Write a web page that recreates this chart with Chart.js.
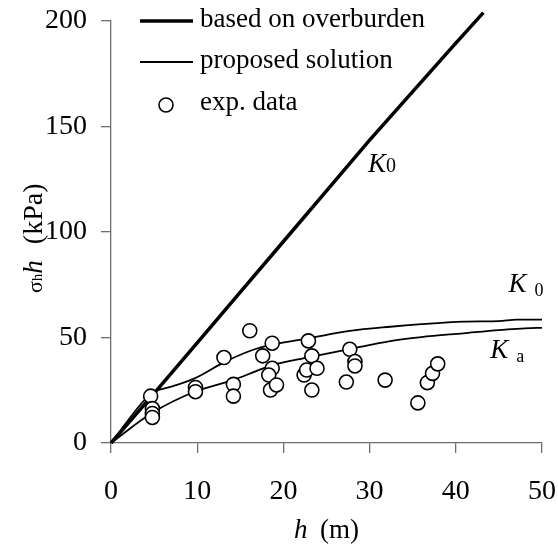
<!DOCTYPE html>
<html>
<head>
<meta charset="utf-8">
<script src="https://cdn.jsdelivr.net/npm/chart.js@4"></script>
<style>
  html, body { margin: 0; padding: 0; background: #fff; }
  canvas { display: block; }
</style>
</head>
<body>
<canvas id="chart" width="558" height="546"></canvas>
<script>
// Data
const hOverburden = [0, 5, 10, 15, 20, 25, 30, 35, 40, 43.2];
const sOverburden = [0, 23.5, 47.5, 71.5, 95.5, 119.5, 143.5, 166.5, 189.5, 204];

const hK0 = [0, 4.7, 7.0, 9.7, 13.0, 16.1, 18.8, 22.9, 27.7, 32.4, 36, 40.9, 45, 47.1, 50];
const sK0 = [0, 23.5, 26.7, 30.6, 38.0, 43.6, 46.7, 49.6, 53.1, 55.1, 56.3, 57.5, 57.8, 58.5, 58.5];

const hKa = [0, 4.7, 9.7, 14.2, 16.7, 18.8, 22.9, 27.7, 32.4, 36, 40.9, 45, 49.4, 50];
const sKa = [0, 14.1, 24.3, 29.9, 33.8, 37, 40.6, 44.5, 48.3, 50.2, 52, 53.5, 54.6, 54.6];

const expH = [4.6, 4.8, 4.8, 4.8, 9.8, 9.8, 13.1, 14.2, 14.2, 16.1, 17.6, 18.7, 18.7, 18.3, 18.5, 19.2,
              22.9, 23.3, 22.4, 22.7, 23.9, 23.3, 27.7, 28.3, 28.3, 27.3, 31.8, 35.6, 36.7, 37.3, 37.9];
const expS = [22.2, 16.3, 14.0, 12.1, 26.3, 24.3, 40.5, 27.8, 22.2, 53.2, 41.3, 47.3, 35.4, 32.2, 25.1, 27.5,
              48.4, 41.3, 32.2, 34.6, 35.4, 25.1, 44.4, 38.6, 36.5, 28.9, 29.8, 19.0, 28.6, 33.0, 37.5];

const xTicks = [0, 10, 20, 30, 40, 50];
const yTicks = [0, 50, 100, 150, 200];

const legendLabels = ['based on overburden', 'proposed solution', 'exp. data'];

// curve labels: [h, sigma, main, subscript, size, subSize, gap]
const curveLabels = [
  [29.8, 128.4, 'K', '0', 27, 20, 0],
  [46.1, 71.6, 'K', '0', 27, 18, 8],
  [44.0, 40.3, 'K', 'a', 27, 18, 8]
];

const SERIF = "'Liberation Serif', 'Times New Roman', serif";
const AXIS_COLOR = '#6e6e6e';

function toPoints(xs, ys) {
  return xs.map((x, i) => ({ x: x, y: ys[i] }));
}

// Draws the legend, the axis titles and the K labels
const annotations = {
  id: 'annotations',
  afterDraw(chart) {
    const c = chart.ctx;
    const xs = chart.scales.x;
    const ys = chart.scales.y;
    c.save();
    c.fillStyle = '#000';
    c.strokeStyle = '#000';
    c.textBaseline = 'alphabetic';

    // legend
    c.font = '27px ' + SERIF;
    c.lineWidth = 3.5;
    c.beginPath(); c.moveTo(140, 21); c.lineTo(193, 21); c.stroke();
    c.fillText(legendLabels[0], 200, 27);
    c.lineWidth = 1.8;
    c.beginPath(); c.moveTo(140, 62); c.lineTo(193, 62); c.stroke();
    c.fillText(legendLabels[1], 200, 68);
    c.lineWidth = 1.6;
    c.beginPath(); c.arc(166, 105, 7, 0, Math.PI * 2); c.stroke();
    c.fillText(legendLabels[2], 200, 110);

    // K labels
    curveLabels.forEach(l => {
      const px = xs.getPixelForValue(l[0]);
      const py = ys.getPixelForValue(l[1]);
      c.font = 'italic ' + l[4] + 'px ' + SERIF;
      c.fillText(l[2], px, py);
      const w = c.measureText(l[2]).width;
      c.font = l[5] + 'px ' + SERIF;
      c.fillText(l[3], px + w + l[6], py + (l[6] ? 4 : 0));
    });

    // x title
    c.font = 'italic 27px ' + SERIF;
    c.fillText('h', 294, 538);
    c.font = '27px ' + SERIF;
    c.fillText('(m)', 320, 538);

    // y title (rotated)
    c.translate(42, 293);
    c.rotate(-Math.PI / 2);
    let x = 0;
    c.font = '22px ' + SERIF;
    c.fillText('σ', x, 0); x += c.measureText('σ').width;
    c.font = '15px ' + SERIF;
    c.fillText('h', x, 0); x += c.measureText('h').width;
    c.font = 'italic 27px ' + SERIF;
    c.fillText('h', x, 0); x += c.measureText('h').width + 16;
    c.font = '28px ' + SERIF;
    c.fillText('(kPa)', x, 0);
    c.restore();
  }
};

const axisGrid = {
  display: true,
  drawOnChartArea: false,
  drawTicks: true,
  tickLength: 10,
  color: AXIS_COLOR,
  lineWidth: 1.3
};

const chart = new Chart(document.getElementById('chart').getContext('2d'), {
  type: 'scatter',
  data: {
    datasets: [
      {
        label: legendLabels[2],
        data: toPoints(expH, expS),
        pointRadius: 7,
        pointBorderWidth: 1.6,
        pointBackgroundColor: '#fff',
        pointBorderColor: '#000',
        order: 0
      },
      {
        type: 'line',
        label: legendLabels[0],
        data: toPoints(hOverburden, sOverburden),
        borderColor: '#000',
        borderWidth: 3.5,
        pointRadius: 0,
        fill: false,
        clip: false,
        order: 1
      },
      {
        type: 'line',
        label: legendLabels[1],
        data: toPoints(hK0, sK0),
        borderColor: '#000',
        borderWidth: 1.8,
        pointRadius: 0,
        fill: false,
        cubicInterpolationMode: 'monotone',
        order: 1
      },
      {
        type: 'line',
        label: 'Ka',
        data: toPoints(hKa, sKa),
        borderColor: '#000',
        borderWidth: 1.8,
        pointRadius: 0,
        fill: false,
        cubicInterpolationMode: 'monotone',
        order: 1
      }
    ]
  },
  options: {
    responsive: false,
    animation: false,
    layout: {
      padding: { top: 21, right: 16, left: 0, bottom: 0 }
    },
    plugins: {
      legend: { display: false },
      tooltip: { enabled: false }
    },
    scales: {
      x: {
        type: 'linear',
        min: 0,
        max: 50,
        afterFit: s => { s.height = 103; s.paddingLeft = 0; s.paddingRight = 0; },
        afterBuildTicks: s => { s.ticks = xTicks.map(v => ({ value: v })); },
        grid: axisGrid,
        border: { display: true, color: AXIS_COLOR, width: 1.3 },
        ticks: {
          color: '#000',
          padding: 22,
          font: { family: SERIF, size: 28 }
        }
      },
      y: {
        type: 'linear',
        min: 0,
        max: 200,
        afterFit: s => { s.width = 111; s.paddingTop = 0; s.paddingBottom = 0; },
        afterBuildTicks: s => { s.ticks = yTicks.map(v => ({ value: v })); },
        grid: axisGrid,
        border: { display: true, color: AXIS_COLOR, width: 1.3 },
        ticks: {
          color: '#000',
          padding: 14,
          font: { family: SERIF, size: 28 }
        }
      }
    }
  },
  plugins: [annotations]
});
</script>
</body>
</html>
